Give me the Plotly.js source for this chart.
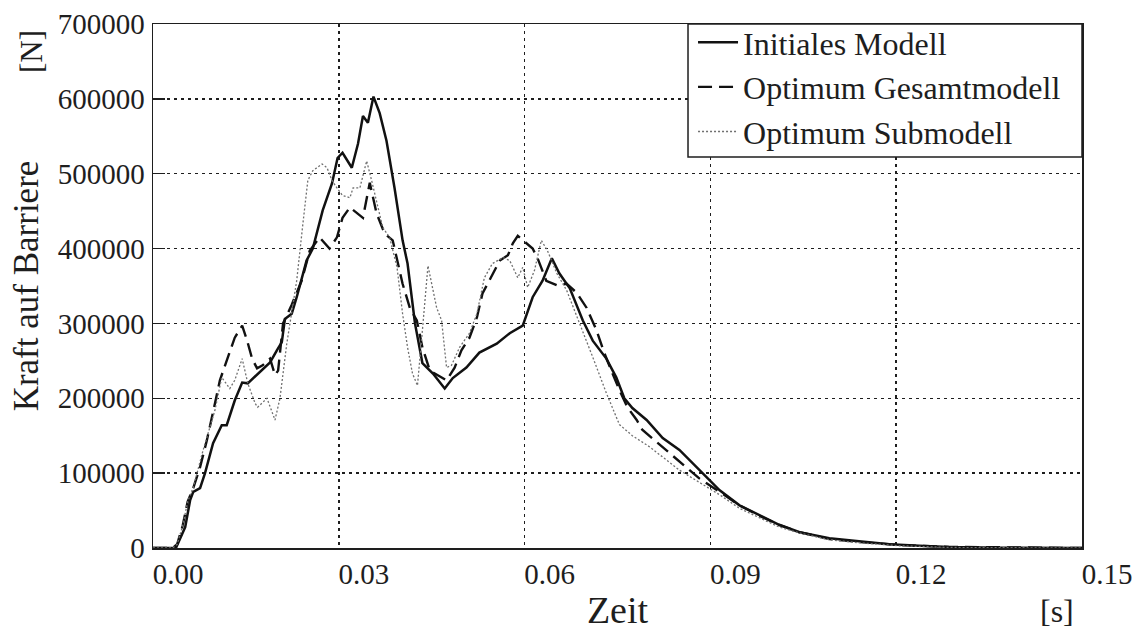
<!DOCTYPE html>
<html>
<head>
<meta charset="utf-8">
<script src="https://cdn.plot.ly/plotly-3.0.1.min.js"></script>
<style>html,body{margin:0;padding:0;background:#fff;}#chart{width:1143px;height:631px;}</style>
</head>
<body>
<div id="chart"></div>
<script>
// ---- data (time in s, force in N) ----
const seriesNames = ["Initiales Modell", "Optimum Gesamtmodell", "Optimum Submodell"];

const tInitial = [0, 0.0032, 0.0037, 0.0052, 0.0060, 0.0065, 0.0076, 0.0084, 0.0097, 0.0111, 0.0119, 0.0132, 0.0144, 0.0153, 0.0173, 0.0189, 0.0200, 0.0208, 0.0213, 0.0224, 0.0232, 0.0248, 0.0258, 0.0274, 0.0289, 0.0298, 0.0306, 0.0321, 0.0331, 0.0339, 0.0347, 0.0356, 0.0366, 0.0377, 0.0390, 0.0403, 0.0411, 0.0423, 0.0435, 0.0452, 0.0471, 0.0484, 0.0506, 0.0527, 0.0555, 0.0576, 0.0597, 0.0613, 0.0629, 0.0644, 0.0656, 0.0673, 0.0694, 0.0710, 0.0732, 0.0748, 0.0761, 0.0774, 0.0797, 0.0823, 0.0850, 0.0882, 0.0915, 0.0947, 0.0979, 0.1011, 0.1044, 0.1092, 0.1140, 0.1189, 0.1237, 0.1285, 0.1366, 0.1500];
const fInitial = [0, 0, 0, 28000, 64000, 75000, 80000, 100000, 140000, 164000, 164000, 197000, 221000, 220000, 235000, 248000, 264000, 275000, 306000, 313000, 335000, 384000, 400000, 451000, 487000, 521000, 528000, 508000, 540000, 577000, 568000, 603000, 581000, 544000, 481000, 411000, 380000, 300000, 247000, 233000, 213000, 227000, 241000, 261000, 273000, 287000, 297000, 335000, 357000, 387000, 367000, 347000, 304000, 277000, 253000, 228000, 200000, 187000, 171000, 147000, 131000, 104000, 77000, 57000, 44000, 31000, 21000, 13000, 9000, 5000, 3000, 1500, 500, 0];

const tGesamt = [0, 0.0032, 0.0039, 0.0048, 0.0056, 0.0065, 0.0076, 0.0087, 0.0100, 0.0108, 0.0121, 0.0132, 0.0144, 0.0152, 0.0160, 0.0168, 0.0177, 0.0189, 0.0197, 0.0202, 0.0210, 0.0224, 0.0240, 0.0253, 0.0269, 0.0285, 0.0297, 0.0306, 0.0318, 0.0329, 0.0339, 0.0350, 0.0361, 0.0374, 0.0387, 0.0403, 0.0415, 0.0426, 0.0435, 0.0447, 0.0460, 0.0474, 0.0487, 0.0498, 0.0511, 0.0523, 0.0532, 0.0547, 0.0560, 0.0573, 0.0581, 0.0589, 0.0603, 0.0613, 0.0621, 0.0635, 0.0652, 0.0668, 0.0684, 0.0700, 0.0716, 0.0729, 0.0742, 0.0753, 0.0766, 0.0781, 0.0790, 0.0818, 0.0850, 0.0882, 0.0915, 0.0947, 0.0979, 0.1011, 0.1044, 0.1092, 0.1140, 0.1205, 0.1285, 0.1500];
const fGesamt = [0, 0, 5000, 30000, 62000, 80000, 108000, 144000, 193000, 224000, 255000, 281000, 297000, 277000, 253000, 240000, 244000, 253000, 231000, 237000, 300000, 325000, 357000, 397000, 415000, 400000, 415000, 441000, 455000, 448000, 441000, 488000, 447000, 420000, 411000, 353000, 320000, 304000, 268000, 237000, 231000, 224000, 241000, 264000, 281000, 308000, 340000, 364000, 384000, 391000, 407000, 417000, 407000, 400000, 387000, 357000, 351000, 353000, 341000, 321000, 291000, 260000, 233000, 211000, 188000, 171000, 158000, 138000, 115000, 93000, 75000, 57000, 43000, 31000, 21000, 12000, 8000, 4000, 1500, 0];

const tSub = [0, 0.0032, 0.0039, 0.0048, 0.0056, 0.0065, 0.0081, 0.0100, 0.0111, 0.0124, 0.0132, 0.0144, 0.0153, 0.0165, 0.0169, 0.0184, 0.0197, 0.0205, 0.0216, 0.0221, 0.0232, 0.0242, 0.0250, 0.0258, 0.0273, 0.0281, 0.0289, 0.0297, 0.0306, 0.0318, 0.0323, 0.0334, 0.0345, 0.0353, 0.0363, 0.0371, 0.0382, 0.0394, 0.0403, 0.0411, 0.0419, 0.0427, 0.0435, 0.0444, 0.0458, 0.0466, 0.0474, 0.0482, 0.0495, 0.0511, 0.0523, 0.0535, 0.0548, 0.0565, 0.0576, 0.0589, 0.0597, 0.0605, 0.0616, 0.0627, 0.0637, 0.0652, 0.0668, 0.0689, 0.0710, 0.0732, 0.0753, 0.0774, 0.0802, 0.0850, 0.0882, 0.0915, 0.0947, 0.0979, 0.1011, 0.1044, 0.1092, 0.1140, 0.1205, 0.1285, 0.1500];
const fSub = [0, 0, 5000, 30000, 62000, 81000, 131000, 184000, 228000, 213000, 224000, 253000, 220000, 193000, 188000, 200000, 171000, 200000, 273000, 300000, 357000, 433000, 491000, 504000, 513000, 508000, 491000, 481000, 471000, 468000, 481000, 481000, 517000, 491000, 455000, 428000, 415000, 375000, 313000, 268000, 233000, 217000, 291000, 377000, 321000, 304000, 241000, 244000, 268000, 287000, 313000, 361000, 380000, 388000, 384000, 361000, 375000, 348000, 371000, 411000, 397000, 367000, 344000, 300000, 255000, 207000, 165000, 150000, 135000, 104000, 88000, 71000, 53000, 41000, 28000, 20000, 11000, 7000, 3000, 700, 0];

const xTickVals = [0, 0.03, 0.06, 0.09, 0.12, 0.15];
const xTickText = ["0.00", "0.03", "0.06", "0.09", "0.12", "0.15"];
const yTickVals = [0, 100000, 200000, 300000, 400000, 500000, 600000, 700000];
const yTickText = ["0", "100000", "200000", "300000", "400000", "500000", "600000", "700000"];

const xTitle = "Zeit", xUnit = "[s]";
const yTitle = "Kraft auf Barriere", yUnit = "[N]";

// ---- chart ----
const FONT = "'Liberation Serif', 'Times New Roman', Times, serif";
const INK = "#1e1e1e";

const traces = [
  {x: tInitial, y: fInitial, name: seriesNames[0], legendgroup: "a", mode: "lines",
   line: {color: "#111", width: 2.5}},
  {x: tGesamt, y: fGesamt, name: seriesNames[1], legendgroup: "b", mode: "lines",
   line: {color: "#111", width: 2.4, dash: "14px,7px"}},
  {x: tSub, y: fSub, name: seriesNames[2], legendgroup: "c", mode: "lines",
   line: {color: "#707070", width: 1.3, dash: "2px,2px"}}
];

const layout = {
  width: 1143, height: 631,
  margin: {l: 153, r: 61, t: 24, b: 83, pad: 0},
  paper_bgcolor: "#fff", plot_bgcolor: "#fff",
  font: {family: FONT, color: INK, size: 29},
  showlegend: true,
  legend: {
    x: 0.5813, xanchor: "left", y: 1.0172, yanchor: "top",
    bgcolor: "rgba(0,0,0,0)", borderwidth: 0,
    font: {family: FONT, size: 32, color: INK},
    traceorder: "grouped", tracegroupgap: 0, itemwidth: 40
  },
  shapes: [
    {type: "rect", xref: "paper", yref: "paper", x0: 0.5759, x1: 1, y0: 0.7462, y1: 1,
     layer: "above", fillcolor: "#fff", line: {color: INK, width: 1.5}}
  ],
  xaxis: {
    range: [0, 0.15], tickvals: xTickVals, ticktext: xTickText,
    showgrid: true, gridcolor: INK, gridwidth: 1.5, griddash: "3px,4px",
    zeroline: false, showline: true, mirror: true, linecolor: INK, linewidth: 1.5,
    ticks: "", ticklabelshift: 25, ticklabelstandoff: 0,
    tickfont: {family: FONT, size: 29, color: INK},
    title: {text: xTitle, font: {family: FONT, size: 38, color: INK}, standoff: 17}
  },
  yaxis: {
    range: [0, 700000], tickvals: yTickVals, ticktext: yTickText,
    showgrid: true, gridcolor: INK, gridwidth: 1.5, griddash: "3px,4px",
    zeroline: false, showline: true, mirror: true, linecolor: INK, linewidth: 1.5,
    ticks: "inside", ticklen: 12, tickwidth: 1.5, tickcolor: INK, ticklabelstandoff: 1,
    tickfont: {family: FONT, size: 29, color: INK},
    title: {text: yTitle, font: {family: FONT, size: 35, color: INK}, standoff: 8}
  },
  annotations: [
    {text: yUnit, xref: "paper", yref: "paper", x: -0.131, y: 0.947, xanchor: "center", yanchor: "middle",
     showarrow: false, textangle: -90, font: {family: FONT, size: 31, color: INK}},
    {text: xUnit, xref: "paper", yref: "paper", x: 0.973, y: -0.12, xanchor: "center", yanchor: "middle",
     showarrow: false, font: {family: FONT, size: 32, color: INK}}
  ]
};

Plotly.newPlot("chart", traces, layout, {displayModeBar: false, staticPlot: true});
</script>
</body>
</html>
